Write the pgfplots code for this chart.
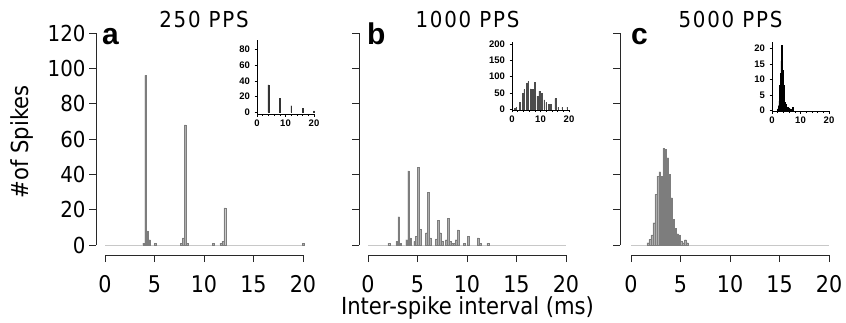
\documentclass[border=0pt]{standalone}
\usepackage{pgfplots}
\pgfplotsset{compat=1.18}
\usepackage{fontspec}
\setmainfont{DejaVu Sans}[FakeStretch=0.9]
\newfontfamily\titlefont{DejaVu Sans}[FakeStretch=0.9, LetterSpace=8]
\newfontfamily\libsans{Liberation Sans}
\definecolor{barfill}{RGB}{175,175,175}
\definecolor{baredge}{RGB}{125,125,125}
\definecolor{baseln}{RGB}{200,200,200}
\definecolor{axcol}{RGB}{40,40,40}

\pgfplotstableread{
x y
3.9 1
4.1 96
4.3 8
4.5 3
5.1 1
7.7 1
7.9 4
8.1 68
8.3 1
10.9 1
11.7 1
11.9 2
12.1 21
20.0 1
}\dataA

\pgfplotstableread{
x y
2.1 1
2.9 2
3.1 16
3.3 1
3.9 3
4.1 42
4.3 4
4.7 2
4.9 5
5.1 44
5.3 9
5.9 7
6.1 30
6.3 4
6.9 3.5
7.1 14
7.3 7
7.5 2
7.9 3
8.1 15
8.3 2
8.5 1
8.7 1
8.9 3
9.1 8.5
9.7 1
10.1 5
11.1 4
11.3 1
12.1 1
}\dataB

\pgfplotstableread{
x y
1.7 1.3
1.9 3.2
2.1 5.7
2.3 12.6
2.5 28.7
2.7 39
2.9 41.5
3.1 39
3.3 54.7
3.5 54
3.7 49.4
3.9 40
4.1 26.8
4.3 14.5
4.5 9.4
4.7 6.4
4.9 5.7
5.1 2.3
5.3 1.3
5.5 3
5.7 1.3
}\dataC

\pgfplotstableread{
x y
4 35
8 18
12 8.5
16 5
20 2
}\insetA

\pgfplotstableread{
x y
1.0 3
1.5 5
2.7 20
3.7 48
4.3 60
5.1 80
5.7 85
6.5 62
7.3 60
8.1 82
8.9 40
9.6 55
10.5 48
11.3 28
12.0 20
12.9 15
13.7 15
15.2 32
16.2 5
17.6 5
19.4 6
}\insetB

\pgfplotstableread{
x y
2.0 0.5
2.25 1.5
2.5 3
2.75 8
3.0 12
3.25 16
3.5 21
3.75 13
4.0 8
4.25 4
4.5 2.5
4.75 2
5.0 1.5
5.5 1
6.0 0.8
6.5 0.5
7.3 1
}\insetC

\pgfplotsset{
  mainax/.style={
    anchor=south west, scale only axis,
    width=198pt, height=212pt,
    xmin=0, xmax=20, ymin=0, ymax=120,
    axis x line*=bottom, axis y line*=left,
    axis x line shift=10pt, axis y line shift=9pt,
    xtick={0,5,...,20}, ytick={0,20,...,120},
    tick align=outside, major tick length=7pt,
    axis line style={axcol, line width=0.9pt},
    tick style={axcol, line width=0.9pt},
    clip=false,
    /pgf/number format/assume math mode=true,
    yticklabel style={font=\fontsize{22}{22}\selectfont, text=black},
    xticklabel style={font=\fontsize{23}{23}\selectfont, text=black, yshift=-10pt},
  },
  mainbar/.style={ybar, bar width=0.18, bar shift=0pt, fill=barfill, draw=baredge, line width=0.25pt},
  inax/.style={
    anchor=south west, scale only axis,
    width=57pt, xmin=0, xmax=20,
    axis x line*=bottom, axis y line*=left,
    xtick={0,10,20}, minor xtick={2,4,...,18},
    tick align=outside, major tick length=2.5pt, minor tick length=2pt,
    axis line style={black, line width=0.6pt},
    tick style={black, line width=0.6pt},
    clip=false,
    /pgf/number format/assume math mode=true,
    ticklabel style={font=\libsans\bfseries\fontsize{9.5}{9.5}\selectfont, text=black},
    yticklabel style={xshift=-1pt},
  },
}

\begin{document}
\begin{tikzpicture}
\useasboundingbox (0pt,0pt) rectangle (846pt,322pt);

% ---------- panel a ----------
\begin{axis}[mainax, at={(105pt,77pt)}]
\addplot[baseln, line width=1pt] coordinates {(0,0) (20,0)};
\addplot[mainbar] table[x=x,y=y] {\dataA};
\end{axis}

% ---------- panel b ----------
\begin{axis}[mainax, at={(368pt,77pt)}, yticklabels={}]
\addplot[baseln, line width=1pt] coordinates {(0,0) (20,0)};
\addplot[mainbar] table[x=x,y=y] {\dataB};
\end{axis}

% ---------- panel c ----------
\begin{axis}[mainax, at={(631pt,77pt)}, yticklabels={}, axis y line shift=11pt]
\addplot[baseln, line width=1pt] coordinates {(0,0) (20,0)};
\addplot[mainbar] table[x=x,y=y] {\dataC};
\end{axis}

% ---------- insets ----------
\begin{axis}[inax, at={(257pt,208pt)}, height=74pt, ymin=-2, ymax=92, ytick={0,20,...,80}]
\addplot[ybar, bar width=0.3, bar shift=0pt, fill=black!80, draw=black!80] table[x=x,y=y] {\insetA};
\end{axis}

\begin{axis}[inax, at={(512pt,212pt)}, height=68pt, ymin=-3, ymax=207, ytick={0,50,...,200}]
\addplot[ybar, bar width=0.28, bar shift=0pt, fill=black!70, draw=black!70] table[x=x,y=y] {\insetB};
\end{axis}

\begin{axis}[inax, at={(772pt,211pt)}, height=69pt, ymin=-0.2, ymax=22.1, ytick={0,5,...,20}]
\addplot[ybar, bar width=0.25, bar shift=0pt, fill=black, draw=black] table[x=x,y=y] {\insetC};
\end{axis}

% ---------- titles and labels ----------
\node[anchor=base, font=\titlefont\fontsize{22}{22}\selectfont] at (204pt,294pt) {250 PPS};
\node[anchor=base, font=\titlefont\fontsize{22}{22}\selectfont] at (467.5pt,294pt) {1000 PPS};
\node[anchor=base, font=\titlefont\fontsize{22}{22}\selectfont] at (730.5pt,294pt) {5000 PPS};

\node[anchor=base west, inner sep=0pt, font=\libsans\bfseries\fontsize{30}{30}\selectfont] at (102pt,277pt) {a};
\node[anchor=base west, inner sep=0pt, font=\libsans\bfseries\fontsize{30}{30}\selectfont] at (367pt,277pt) {b};
\node[anchor=base west, inner sep=0pt, font=\libsans\bfseries\fontsize{30}{30}\selectfont] at (631pt,277pt) {c};

\node[rotate=90, font=\fontsize{23.5}{23.5}\selectfont] at (22pt,180pt) {\#of Spikes};
\node[anchor=base, font=\fontsize{23.5}{23.5}\selectfont] at (467.5pt,8pt) {Inter-spike interval (ms)};
\end{tikzpicture}
\end{document}
